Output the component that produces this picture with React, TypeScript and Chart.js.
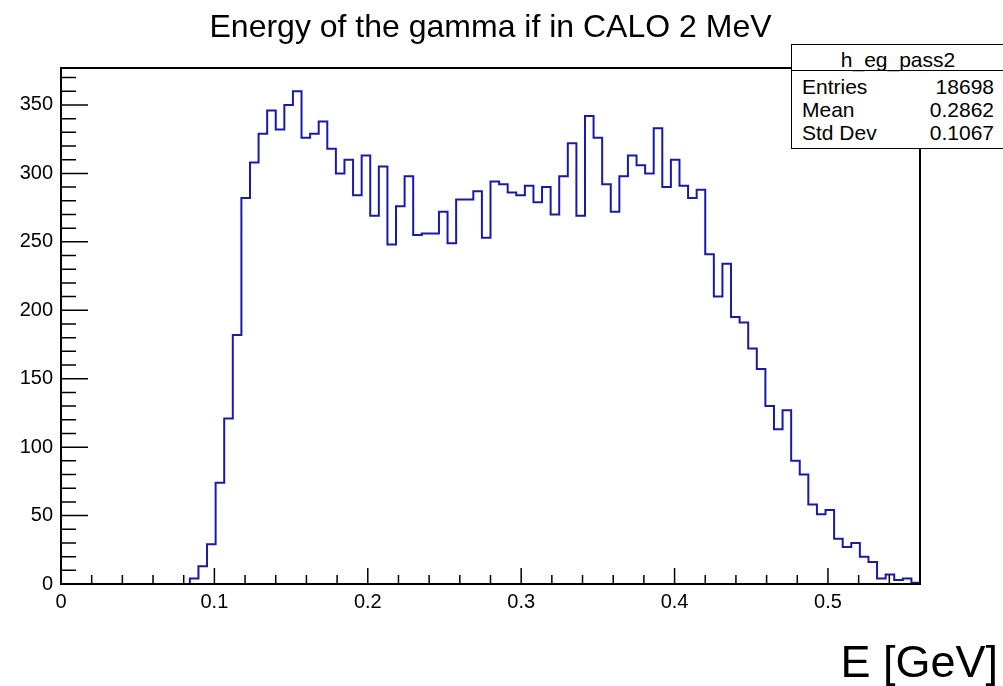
import React, { useEffect, useRef } from 'react';
import { Chart, registerables } from 'chart.js';

Chart.register(...registerables);

// Histogram definition: 100 bins from 0 to 0.56 GeV
const xMin = 0;
const xMax = 0.56;
const binCount = 100;
const counts = [
  0, 0, 0, 0, 0, 0, 0, 0, 0, 0,
  0, 0, 0, 0, 0, 4, 13, 29, 74, 121,
  182, 282, 308, 329, 346, 332, 350, 360, 326, 329,
  338, 318, 300, 310, 284, 313, 269, 305, 248, 276,
  298, 255, 256, 256, 272, 249, 281, 281, 287, 253,
  294, 292, 286, 284, 291, 279, 290, 270, 298, 322,
  269, 342, 326, 292, 272, 298, 313, 306, 300, 333,
  290, 310, 291, 282, 288, 241, 210, 234, 195, 191,
  172, 157, 130, 113, 127, 90, 80, 58, 51, 54,
  33, 27, 30, 20, 16, 4, 7, 3, 4, 1,
];

// Axis ticks
const yMax = 377;
const xMajorStep = 0.1;
const xMinorStep = 0.02;
const yMajorStep = 50;
const yMinorStep = 10;

// Texts
const titleText = 'Energy of the gamma if in CALO 2 MeV';
const xAxisTitle = 'E [GeV]';
const statsName = 'h_eg_pass2';
const statsLabels = ['Entries', 'Mean', 'Std Dev'];
const statsValues = ['18698', '0.2862', '0.1067'];

const FONT = '"Liberation Sans", Arial, Helvetica, sans-serif';

const framePlugin = {
  id: 'rootFrame',
  afterDatasetsDraw(chart: any) {
    const { ctx, chartArea: a, scales } = chart;
    const xs = scales.x;
    const ys = scales.y;
    ctx.save();
    ctx.strokeStyle = '#000';
    ctx.lineWidth = 1.5;
    ctx.beginPath();
    const nx = Math.floor((xMax - xMin) / xMinorStep + 1e-9);
    const perX = Math.round(xMajorStep / xMinorStep);
    for (let i = 1; i < nx; i++) {
      const px = xs.getPixelForValue(xMin + i * xMinorStep);
      const len = i % perX === 0 ? 16 : 9;
      ctx.moveTo(px, a.bottom);
      ctx.lineTo(px, a.bottom - len);
    }
    const ny = Math.floor(yMax / yMinorStep + 1e-9);
    const perY = Math.round(yMajorStep / yMinorStep);
    for (let i = 1; i <= ny; i++) {
      const py = ys.getPixelForValue(i * yMinorStep);
      const len = i % perY === 0 ? 27 : 15;
      ctx.moveTo(a.left, py);
      ctx.lineTo(a.left + len, py);
    }
    ctx.stroke();
    ctx.lineWidth = 2;
    ctx.strokeRect(a.left, a.top, a.right - a.left, a.bottom - a.top);
    ctx.restore();
  },
};

export default function App() {
  const canvasRef = useRef<HTMLCanvasElement | null>(null);

  useEffect(() => {
    const canvas = canvasRef.current;
    if (!canvas) return;
    const binWidth = (xMax - xMin) / binCount;
    const points = counts.map((c, i) => ({ x: xMin + i * binWidth, y: c }));
    points.push({ x: xMax, y: counts[counts.length - 1] });

    const chart = new Chart(canvas, {
      type: 'line',
      data: {
        datasets: [
          {
            data: points,
            stepped: true,
            borderColor: '#1a1aaa',
            borderWidth: 2,
            pointRadius: 0,
            fill: false,
            tension: 0,
          },
        ],
      },
      options: {
        responsive: false,
        maintainAspectRatio: false,
        animation: false,
        events: [],
        layout: { padding: { left: 0, top: 68, right: 83, bottom: 0 } },
        plugins: {
          legend: { display: false },
          tooltip: { enabled: false },
          title: { display: false },
        },
        scales: {
          x: {
            type: 'linear',
            min: xMin,
            max: xMax,
            grid: { display: false, drawTicks: false },
            border: { display: false },
            ticks: {
              stepSize: xMajorStep,
              includeBounds: false,
              autoSkip: false,
              maxRotation: 0,
              padding: 6,
              color: '#000',
              font: { family: FONT, size: 20 },
              callback: (v: any) => (Number(v) === 0 ? '0' : Number(v).toFixed(1)),
            },
            afterFit: (s: any) => {
              s.height = 102;
            },
          },
          y: {
            type: 'linear',
            min: 0,
            max: yMax,
            grid: { display: false, drawTicks: false },
            border: { display: false },
            ticks: {
              stepSize: yMajorStep,
              includeBounds: false,
              autoSkip: false,
              padding: 8,
              color: '#000',
              font: { family: FONT, size: 20 },
              callback: (v: any) => String(Math.round(Number(v))),
            },
            afterFit: (s: any) => {
              s.width = 61;
            },
          },
        },
      },
      plugins: [framePlugin],
    });
    return () => chart.destroy();
  }, []);

  const rowBaselines = [93.3, 116.7, 140];

  return (
    <div
      style={{
        position: 'fixed',
        left: 0,
        top: 0,
        width: 1003,
        height: 686,
        overflow: 'hidden',
        background: '#fff',
        fontFamily: FONT,
        color: '#000',
      }}
    >
      <canvas ref={canvasRef} width={1003} height={686} style={{ position: 'absolute', left: 0, top: 0, width: 1003, height: 686 }} />
      <div
        style={{
          position: 'absolute',
          left: 0,
          top: 10,
          width: 981,
          textAlign: 'center',
          fontSize: 32,
          lineHeight: '32px',
          whiteSpace: 'nowrap',
          color: '#000',
        }}
      >
        {titleText}
      </div>
      <div
        style={{
          position: 'absolute',
          left: 791,
          top: 44,
          width: 212,
          height: 103,
          border: '1px solid #000',
          background: '#fff',
          boxSizing: 'content-box',
        }}
      >
        <div style={{ position: 'absolute', left: 0, top: 0, width: 212, height: 25, borderBottom: '1px solid #000' }} />
        <div
          style={{
            position: 'absolute',
            left: 0,
            top: 66.7 - 17.8 - 45,
            width: 212,
            textAlign: 'center',
            fontSize: 21,
            lineHeight: '21px',
            whiteSpace: 'nowrap',
          }}
        >
          {statsName}
        </div>
        {statsLabels.map((lab, i) => (
          <React.Fragment key={lab}>
            <div
              style={{
                position: 'absolute',
                left: 10,
                top: rowBaselines[i] - 17.8 - 45,
                fontSize: 21,
                lineHeight: '21px',
                whiteSpace: 'nowrap',
              }}
            >
              {lab}
            </div>
            <div
              style={{
                position: 'absolute',
                right: 10,
                top: rowBaselines[i] - 17.8 - 45,
                fontSize: 21,
                lineHeight: '21px',
                whiteSpace: 'nowrap',
                textAlign: 'right',
              }}
            >
              {statsValues[i]}
            </div>
          </React.Fragment>
        ))}
      </div>
      <div
        style={{
          position: 'absolute',
          left: 0,
          top: 638.6,
          width: 998,
          textAlign: 'right',
          fontSize: 45,
          lineHeight: '45px',
          whiteSpace: 'nowrap',
        }}
      >
        {xAxisTitle}
      </div>
    </div>
  );
}
